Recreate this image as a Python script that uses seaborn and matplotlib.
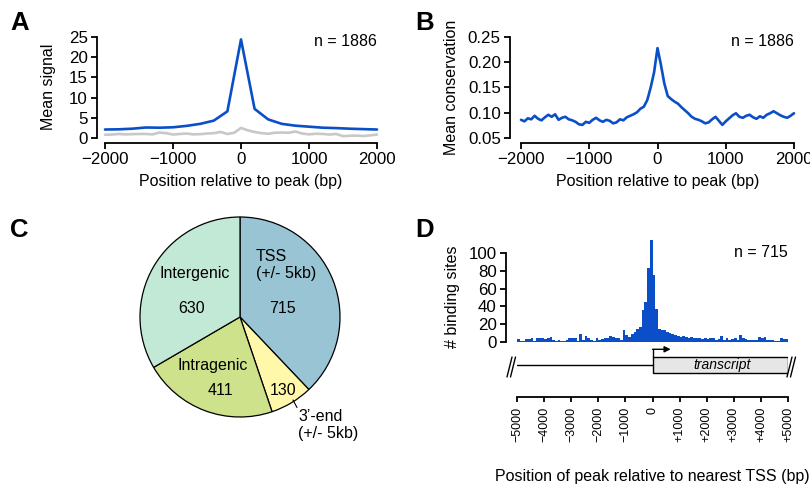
import numpy as np
import pandas as pd
import matplotlib
matplotlib.use("Agg")
import matplotlib.pyplot as plt
import seaborn as sns
from matplotlib.patches import Rectangle

# ---------------- data ----------------
# Panel A: mean signal around peaks
a_pos = [-2000, -1800, -1600, -1400, -1200, -1000, -800, -600, -400, -200, 0,
         200, 400, 600, 800, 1000, 1200, 1400, 1600, 1800, 2000]
a_signal = [2.1, 2.15, 2.3, 2.6, 2.55, 2.65, 3.0, 3.5, 4.3, 6.6, 24.4,
            7.2, 4.6, 3.5, 3.05, 2.8, 2.55, 2.45, 2.3, 2.2, 2.1]
a_ctrl_pos = list(range(-2000, 2001, 100))
a_control = [0.8, 0.85, 1.0, 0.9, 0.95, 1.0, 1.0, 0.9, 1.35, 1.2,
             0.85, 1.0, 1.1, 0.9, 0.95, 1.1, 1.2, 1.5, 1.0, 1.3,
             2.5,
             1.9, 1.5, 1.2, 1.05, 1.3, 1.35, 1.3, 1.6, 1.1, 0.9,
             1.05, 1.0, 0.85, 1.0, 0.45, 0.55, 0.6, 0.5, 0.65, 0.85]

# Panel B: mean conservation
b_pos = list(range(-2000, 2001, 50))
b_cons = [0.086, 0.083, 0.089, 0.087, 0.094, 0.088, 0.085, 0.091, 0.096, 0.092,
          0.097, 0.086, 0.090, 0.092, 0.087, 0.085, 0.082, 0.077, 0.076, 0.082,
          0.080, 0.086, 0.090, 0.085, 0.082, 0.086, 0.084, 0.079, 0.081, 0.087,
          0.085, 0.091, 0.094, 0.097, 0.101, 0.108, 0.112, 0.125, 0.150, 0.180,
          0.228,
          0.195, 0.158, 0.133, 0.127, 0.122, 0.118, 0.111, 0.105, 0.099, 0.092,
          0.088, 0.086, 0.083, 0.079, 0.081, 0.087, 0.092, 0.084, 0.076, 0.083,
          0.089, 0.095, 0.099, 0.092, 0.090, 0.094, 0.096, 0.091, 0.088, 0.093,
          0.090, 0.096, 0.099, 0.103, 0.099, 0.095, 0.092, 0.090, 0.094, 0.099]

# Panel C: genomic distribution
c_names = ["TSS", "3'-end", "Intragenic", "Intergenic"]
c_counts = [715, 130, 411, 630]
c_colors = ["#98c4d4", "#fff7aa", "#cde28a", "#c2e8d6"]

# Panel D: distance to nearest TSS (100 bp bins)
d_edges = list(range(-5000, 5001, 100))
d_counts = [3, 1, 1, 3, 3, 4, 1, 5, 4, 4,
            3, 5, 6, 2, 1, 2, 1, 1, 2, 4,
            5, 4, 1, 9, 2, 7, 4, 2, 1, 5,
            2, 3, 5, 5, 7, 6, 5, 4, 2, 13,
            8, 6, 9, 11, 15,
            17, 36, 45, 83, 115, 75, 37, 15,
            13, 13, 11, 10, 9, 8, 7, 6, 7, 6,
            5, 6, 5, 5, 4, 3, 4, 3, 5, 4,
            2, 3, 7, 2, 4, 2, 3, 4, 2, 8,
            4, 3, 2, 2, 2, 2, 6, 5, 6, 2,
            2, 2, 1, 1, 4, 3, 3]
d_ticks = [-5000, -4000, -3000, -2000, -1000, 0, 1000, 2000, 3000, 4000, 5000]
d_tick_labels = ["\u22125000", "\u22124000", "\u22123000", "\u22122000", "\u22121000", "0",
                 "+1000", "+2000", "+3000", "+4000", "+5000"]

# ---------------- style ----------------
sns.set_style("ticks")
plt.rcParams["font.family"] = ["Liberation Sans", "DejaVu Sans"]
plt.rcParams["axes.linewidth"] = 1.3
plt.rcParams["xtick.major.width"] = 1.3
plt.rcParams["ytick.major.width"] = 1.3
plt.rcParams["xtick.color"] = "black"
plt.rcParams["ytick.color"] = "black"
plt.rcParams["axes.edgecolor"] = "black"
plt.rcParams["text.color"] = "black"
plt.rcParams["axes.labelcolor"] = "black"

W, H = 810, 486
BLUE = "#0a4fc8"
FS = 11.5
TFS = 12.2
PX = 72 / 100  # points per pixel


def fax(left, top, right, bottom):
    return fig.add_axes([left / W, 1 - bottom / H, (right - left) / W, (bottom - top) / H])


fig = plt.figure(figsize=(8.1, 4.86), dpi=100)

# ---------------- Panel A ----------------
axA = fax(105, 37, 377, 138)
sns.lineplot(x=a_ctrl_pos, y=a_control, ax=axA, color="#c8c8c8", lw=1.9, clip_on=False)
sns.lineplot(x=a_pos, y=a_signal, ax=axA, color=BLUE, lw=1.9, clip_on=False)
axA.set_xlim(-2000, 2000)
axA.set_ylim(0, 25)
axA.set_xticks([-2000, -1000, 0, 1000, 2000])
axA.set_yticks([0, 5, 10, 15, 20, 25])
sns.despine(ax=axA, offset={"left": 8 * PX, "bottom": 5 * PX})
axA.tick_params(labelsize=TFS, length=6 * PX, pad=2.3)
axA.set_xlabel("Position relative to peak (bp)", fontsize=FS, va="center")
axA.xaxis.set_label_coords(0.5, (138 - 181.5) / 101)
axA.set_ylabel("Mean signal", fontsize=FS, va="center")
axA.yaxis.set_label_coords((48.5 - 105) / 272, (138 - 87) / 101)
axA.text(1.0, (138 - 42) / 101, "n = 1886", transform=axA.transAxes, ha="right",
         va="center", fontsize=FS)

# ---------------- Panel B ----------------
axB = fax(521, 37, 794, 138)
sns.lineplot(x=b_pos, y=b_cons, ax=axB, color=BLUE, lw=1.9, clip_on=False)
axB.set_xlim(-2000, 2000)
axB.set_ylim(0.05, 0.25)
axB.set_xticks([-2000, -1000, 0, 1000, 2000])
axB.set_yticks([0.05, 0.10, 0.15, 0.20, 0.25])
axB.set_yticklabels(["0.05", "0.10", "0.15", "0.20", "0.25"])
sns.despine(ax=axB, offset={"left": 11 * PX, "bottom": 5 * PX})
axB.tick_params(labelsize=TFS, length=6 * PX, pad=2.3)
axB.set_xlabel("Position relative to peak (bp)", fontsize=FS, va="center")
axB.xaxis.set_label_coords(0.5, (138 - 181.5) / 101)
axB.set_ylabel("Mean conservation", fontsize=FS, va="center")
axB.yaxis.set_label_coords((451.7 - 521) / 273, (138 - 87.5) / 101)
axB.text(1.0, (138 - 42) / 101, "n = 1886", transform=axB.transAxes, ha="right",
         va="center", fontsize=FS)

# ---------------- Panel C ----------------
axC = fax(130, 207, 350, 427)
axC.pie(c_counts, colors=c_colors, startangle=90, counterclock=False, radius=1,
        wedgeprops=dict(edgecolor="black", linewidth=0.9))
axC.set_xlim(-1.1, 1.1)
axC.set_ylim(-1.1, 1.1)
axC.set_aspect("equal")
axC.axis("off")
axC.text(0.16, 0.52, "TSS\n(+/- 5kb)", ha="left", va="center", fontsize=FS, linespacing=1.15)
axC.text(0.42, 0.09, str(c_counts[0]), ha="center", va="center", fontsize=FS)
axC.text(-0.45, 0.44, "Intergenic", ha="center", va="center", fontsize=FS)
axC.text(-0.48, 0.09, str(c_counts[3]), ha="center", va="center", fontsize=FS)
axC.text(-0.27, -0.48, "Intragenic", ha="center", va="center", fontsize=FS)
axC.text(-0.20, -0.73, str(c_counts[2]), ha="center", va="center", fontsize=FS)
axC.text(0.43, -0.73, str(c_counts[1]), ha="center", va="center", fontsize=FS)
axC.text(0.58, -1.08, "3\u2019-end\n(+/- 5kb)", ha="left", va="center", fontsize=FS,
         linespacing=1.15, clip_on=False)
axC.plot([0.53, 0.57], [-0.83, -0.905], color="black", lw=0.8, clip_on=False)

# ---------------- Panel D (histogram) ----------------
axD = fax(517, 342 - 116 * 0.89, 788, 342)
centers = [(d_edges[i] + d_edges[i + 1]) / 2 for i in range(len(d_counts))]
sns.histplot(x=centers, weights=d_counts, bins=d_edges, ax=axD, color=BLUE,
             alpha=1, edgecolor="none", linewidth=0)
axD.set_xlim(-5000, 5000)
axD.set_ylim(0, 116)
axD.set_yticks([0, 20, 40, 60, 80, 100])
sns.despine(ax=axD, bottom=True, offset={"left": 11 * PX})
axD.spines["left"].set_bounds(0, 100)
axD.set_xticks([])
axD.tick_params(labelsize=TFS, length=6 * PX, pad=2.3)
axD.set_xlabel("")
axD.set_ylabel("# binding sites", fontsize=FS, va="center")
axD.yaxis.set_label_coords((453 - 517) / 271, (342 - 297) / (116 * 0.89))
axD.text(1.0, (342 - 252.5) / (116 * 0.89), "n = 715", transform=axD.transAxes,
         ha="right", va="center", fontsize=FS)

# ---------------- Panel D (gene diagram + position axis) ----------------
axG = fax(517, 345, 788, 397)
axG.set_xlim(-5000, 5000)
axG.set_ylim(0, 52)
axG.plot([-5000, 0], [32, 32], color="black", lw=1.0)
axG.add_patch(Rectangle((0, 24), 5000, 16, facecolor="#e6e6e6", edgecolor="black", lw=1.0))
axG.plot([0, 0], [40, 47.7], color="black", lw=1.0)
axG.annotate("", xy=(670, 47.7), xytext=(0, 47.7),
             arrowprops=dict(arrowstyle="-|>", lw=1.0, color="black",
                             mutation_scale=9, shrinkA=0, shrinkB=0))
axG.text(2554, 32, "transcript", ha="center", va="center", fontsize=10, style="italic")
for x0 in (-5369, -5240, 4963, 5092):
    axG.plot([x0, x0 + 185], [20, 40], color="black", lw=1.0, clip_on=False)
for s in ("top", "left", "right"):
    axG.spines[s].set_visible(False)
axG.set_yticks([])
axG.set_xticks(d_ticks)
axG.set_xticklabels(d_tick_labels, rotation=90, fontsize=9)
axG.tick_params(axis="x", length=5 * PX, pad=3.5)
axG.set_xlabel("Position of peak relative to nearest TSS (bp)", fontsize=FS, va="center")
axG.xaxis.set_label_coords(0.5, (397 - 476) / 52)

# ---------------- panel letters ----------------
for lab, x, y in (("A", 10, 23), ("B", 415, 23), ("C", 10, 230), ("D", 415, 230)):
    fig.text(x / W, 1 - y / H, lab, fontsize=18.5, fontweight="bold", ha="left", va="center")

fig.savefig("out.png", dpi=100)
